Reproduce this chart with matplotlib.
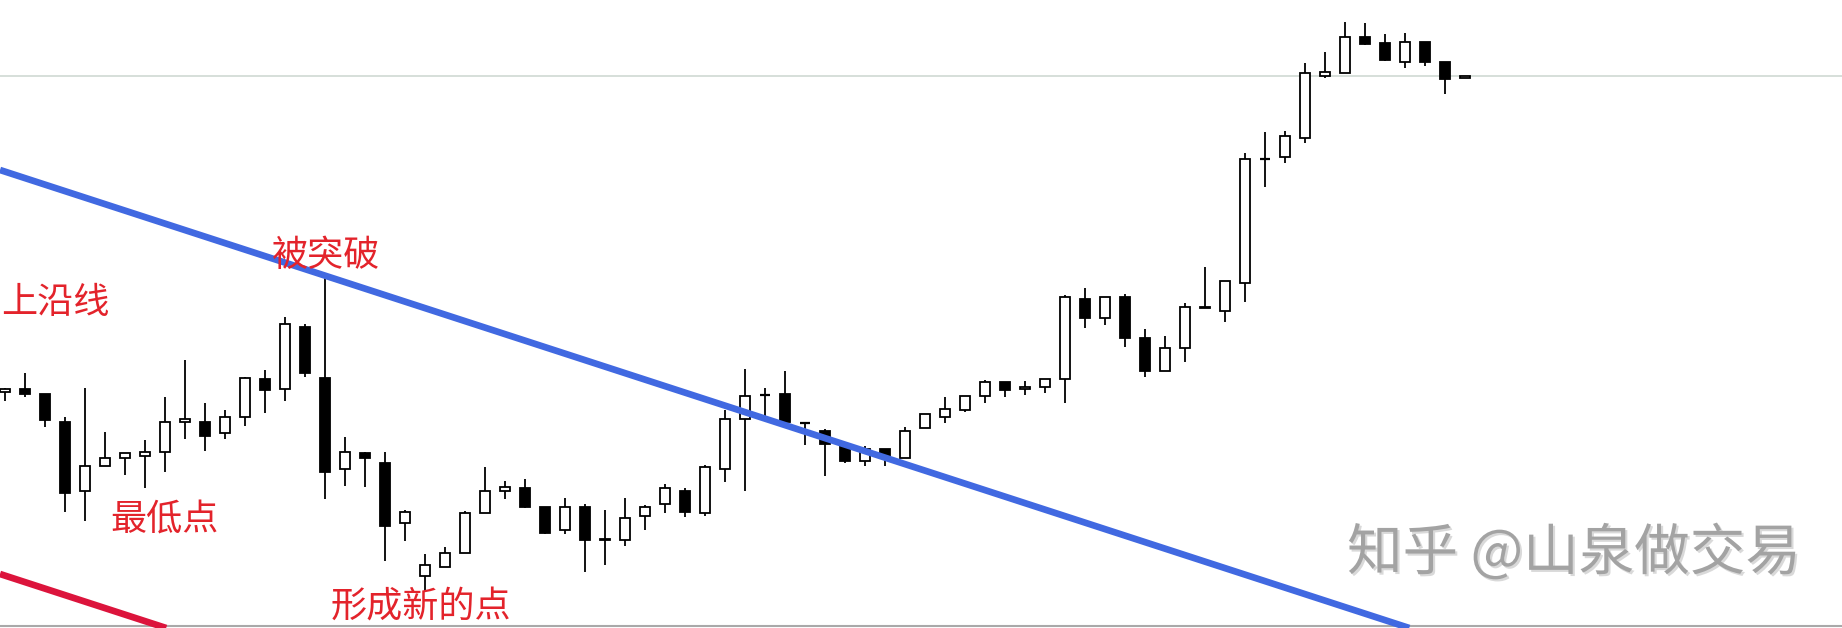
import numpy as np
import matplotlib
matplotlib.use('Agg')
import matplotlib.pyplot as plt
import matplotlib.patheffects as pe

plt.rcParams['font.family'] = ['Noto Sans CJK SC', 'DejaVu Sans']

# H4 candles
opens = [1.3308, 1.3311, 1.3306, 1.3278, 1.3209, 1.3234, 1.3242, 1.3244, 1.3248, 1.3278,
         1.3278, 1.3267, 1.3283, 1.3321, 1.3311, 1.3373, 1.3322, 1.3231, 1.3247, 1.3237,
         1.3177, 1.3124, 1.3133, 1.3147, 1.3187, 1.3209, 1.3212, 1.3193, 1.3170, 1.3193,
         1.3161, 1.3160, 1.3184, 1.3196, 1.3209, 1.3187, 1.3231, 1.3281, 1.3305, 1.3306,
         1.3277, 1.3269, 1.3256, 1.3239, 1.3251, 1.3242, 1.3272, 1.3283, 1.3290, 1.3304,
         1.3318, 1.3311, 1.3313, 1.3321, 1.3401, 1.3382, 1.3403, 1.3362, 1.3329, 1.3352,
         1.3393, 1.3389, 1.3417, 1.3541, 1.3543, 1.3562, 1.3624, 1.3627, 1.3663, 1.3657,
         1.3638, 1.3658, 1.3638, 1.3622]

highs = [1.3312, 1.3327, 1.3306, 1.3283, 1.3312, 1.3268, 1.3247, 1.3260, 1.3303, 1.3340,
         1.3297, 1.3290, 1.3323, 1.3330, 1.3383, 1.3376, 1.3423, 1.3263, 1.3248, 1.3248,
         1.3190, 1.3146, 1.3153, 1.3189, 1.3233, 1.3219, 1.3221, 1.3193, 1.3202, 1.3196,
         1.3190, 1.3202, 1.3195, 1.3216, 1.3212, 1.3235, 1.3290, 1.3331, 1.3312, 1.3329,
         1.3277, 1.3271, 1.3258, 1.3254, 1.3251, 1.3273, 1.3286, 1.3303, 1.3304, 1.3320,
         1.3318, 1.3319, 1.3321, 1.3405, 1.3412, 1.3403, 1.3406, 1.3371, 1.3364, 1.3397,
         1.3433, 1.3419, 1.3547, 1.3568, 1.3569, 1.3637, 1.3648, 1.3678, 1.3677, 1.3666,
         1.3667, 1.3658, 1.3638, 1.3624]

lows = [1.3299, 1.3303, 1.3273, 1.3188, 1.3179, 1.3234, 1.3225, 1.3212, 1.3228, 1.3261,
        1.3249, 1.3261, 1.3274, 1.3287, 1.3299, 1.3323, 1.3201, 1.3214, 1.3213, 1.3139,
        1.3159, 1.3108, 1.3133, 1.3147, 1.3187, 1.3201, 1.3192, 1.3166, 1.3166, 1.3128,
        1.3135, 1.3154, 1.3170, 1.3187, 1.3183, 1.3184, 1.3218, 1.3209, 1.3282, 1.3278,
        1.3255, 1.3224, 1.3237, 1.3234, 1.3234, 1.3242, 1.3272, 1.3277, 1.3288, 1.3297,
        1.3303, 1.3305, 1.3307, 1.3297, 1.3372, 1.3375, 1.3353, 1.3323, 1.3329, 1.3338,
        1.3392, 1.3378, 1.3398, 1.3513, 1.3537, 1.3557, 1.3622, 1.3627, 1.3655, 1.3639,
        1.3632, 1.3634, 1.3606, 1.3622]

closes = [1.3311, 1.3306, 1.3280, 1.3207, 1.3234, 1.3242, 1.3247, 1.3248, 1.3278, 1.3281,
          1.3264, 1.3283, 1.3322, 1.3310, 1.3376, 1.3327, 1.3228, 1.3248, 1.3242, 1.3174,
          1.3188, 1.3135, 1.3147, 1.3187, 1.3209, 1.3213, 1.3193, 1.3167, 1.3193, 1.3160,
          1.3160, 1.3182, 1.3193, 1.3212, 1.3188, 1.3233, 1.3281, 1.3304, 1.3305, 1.3278,
          1.3277, 1.3256, 1.3239, 1.3251, 1.3242, 1.3269, 1.3286, 1.3291, 1.3304, 1.3318,
          1.3310, 1.3313, 1.3321, 1.3403, 1.3382, 1.3403, 1.3362, 1.3329, 1.3352, 1.3393,
          1.3392, 1.3419, 1.3541, 1.3541, 1.3564, 1.3627, 1.3628, 1.3663, 1.3656, 1.3640,
          1.3658, 1.3638, 1.3621, 1.3624]

# current price level and the two channel lines (anchor, slope per bar)
price_level = 1.3624
upper_line = (-0.25, 1.3530)
lower_line = (-0.25, 1.3126)
channel_slope = -0.00065

# annotations: (text, bar position, price)
labels = [
    ('上沿线', -0.2, 1.33965),
    ('被突破', 13.35, 1.3444),
    ('最低点', 5.25, 1.3180),
    ('形成新的点', 16.3, 1.30925),
]
watermark = ('知乎 @山泉做交易', 67.1, 1.3146)


def draw_candles(ax, o, h, l, c, width=0.53):
    o, h, l, c = map(np.asarray, (o, h, l, c))
    x = np.arange(len(o))

    ax.vlines(x, l, h, color='black', lw=1.3, zorder=2)

    doji = o == c
    up = (c > o) & ~doji
    down = (c < o) & ~doji

    for mask, face in ((up, 'white'), (down, 'black')):
        ax.bar(x[mask], np.abs(c - o)[mask], bottom=np.minimum(o, c)[mask],
               width=width, facecolor=face, edgecolor='black', lw=1.3,
               zorder=3)

    ax.hlines(o[doji], x[doji] - width / 2, x[doji] + width / 2,
              color='black', lw=1.6, zorder=3)
    return ax


fig = plt.figure(figsize=(18.42, 6.28), dpi=100)
ax = fig.add_axes([0, 0, 1, 1])
ax.set_xlim(-0.25, 91.85)
ax.set_ylim(1.3072, 1.3700)
ax.axis('off')

ax.axhline(price_level, color='#cfd9d3', lw=1.2, zorder=1)
ax.axhline(1.30735, color='#a9a9a9', lw=1.5, zorder=1)

draw_candles(ax, opens, highs, lows, closes)

ax.axline(upper_line, slope=channel_slope, color='#4169e1', lw=4.8,
          zorder=4, solid_capstyle='butt')
ax.axline(lower_line, slope=channel_slope, color='#dc143c', lw=4.8,
          zorder=4, solid_capstyle='butt')

for text, xpos, ypos in labels:
    ax.text(xpos, ypos, text, color='#e3232b', fontsize=26,
            ha='left', va='center', zorder=5)

wm_text, wm_x, wm_y = watermark
ax.text(wm_x, wm_y, wm_text, color='#a3a3a3', fontsize=40,
        ha='left', va='center', zorder=5,
        path_effects=[pe.withSimplePatchShadow(offset=(1.5, -1.5),
                                               shadow_rgbFace='#d9d9d9',
                                               alpha=1.0)])

fig.savefig('out.png', dpi=100, facecolor='white')
